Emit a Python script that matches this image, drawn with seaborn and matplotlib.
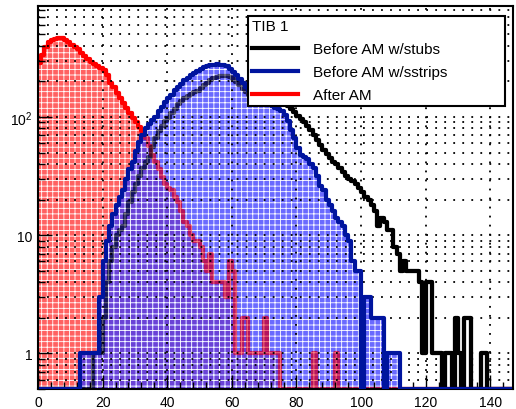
import numpy as np
import matplotlib
matplotlib.use("Agg")
import matplotlib.pyplot as plt
from matplotlib.lines import Line2D
from matplotlib.ticker import FixedLocator, MultipleLocator, NullFormatter, FixedFormatter, LogLocator
import seaborn as sns

# 1-unit bins from 0 to 147
bin_edges = list(range(0, 148))

after_am = [285, 335, 390, 430, 445, 460, 465, 462, 450, 430,
            410, 395, 375, 350, 330, 310, 290, 280, 270, 262,
            250, 225, 195, 180, 160, 145, 132, 120, 108, 98,
            90, 82, 76, 66, 57, 48, 42, 36, 31, 27,
            25, 24, 21, 19, 16, 13, 12, 10, 9, 9,
            8, 6, 5, 7, 4, 4, 4, 4, 3, 6,
            5, 1, 1, 2, 2, 1, 1, 1, 1, 1,
            2, 1, 1, 1, 1, 0, 0, 0, 0, 0,
            0, 0, 0, 0, 0, 1, 0, 0, 0, 0,
            0, 0, 1, 0, 0, 0, 0, 0, 0, 0] + [0] * 47

before_sstrips = [0] * 10 + [
            0, 0, 0, 1, 1, 1, 1, 1, 1, 3,
            6, 9, 12, 15, 18, 21, 24, 30, 36, 42,
            52, 62, 70, 80, 88, 94, 100, 112, 122, 135,
            145, 155, 168, 180, 192, 205, 215, 225, 235, 245,
            255, 265, 272, 276, 278, 280, 278, 276, 270, 255,
            240, 225, 210, 195, 180, 166, 160, 152, 146, 140,
            136, 130, 124, 120, 116, 112, 104, 92, 78, 66,
            55, 48, 46, 44, 40, 37, 32, 26, 24, 20,
            18, 16, 14, 13, 12, 10, 9, 6, 5, 5,
            0, 3, 3, 2, 2, 2, 2, 0, 1, 1,
            1, 1] + [0] * 35

before_stubs = [0] * 10 + [
            0, 0, 0, 0, 0, 0, 0, 1, 1, 1,
            2, 4, 6, 8, 10, 11, 12, 15, 19, 23,
            27, 32, 37, 42, 46, 56, 66, 76, 84, 92,
            98, 108, 118, 128, 136, 145, 152, 158, 163, 166,
            175, 185, 195, 205, 212, 218, 222, 224, 222, 218,
            210, 198, 186, 174, 163, 154, 148, 144, 141, 139,
            138, 137, 136, 134, 132, 130, 128, 124, 118, 110,
            102, 96, 90, 84, 78, 70, 64, 58, 53, 49,
            45, 42, 40, 37, 34, 32, 30, 29, 27, 25,
            23, 21, 20, 18, 16, 12, 14, 13, 11, 11,
            8, 7, 5, 6, 5, 5, 5, 5, 4, 1,
            4, 4, 1, 1, 1, 0, 1, 1, 0, 2,
            1, 0, 2, 2, 0, 0, 0, 1, 1, 0] + [0] * 7

series_labels = ["Before AM w/stubs", "Before AM w/sstrips", "After AM"]
legend_title = "TIB 1"
x_ticks = [0, 20, 40, 60, 80, 100, 120, 140]
y_ticks = [1, 10, 100]
y_tick_labels = ["1", "10", r"$10^2$"]

plt.rcParams['font.family'] = ['Liberation Sans', 'DejaVu Sans']
plt.rcParams['mathtext.fontset'] = 'custom'
plt.rcParams['mathtext.rm'] = 'Liberation Sans'
plt.rcParams['hatch.linewidth'] = 0.6

y_min, y_max = 0.5, 870
centers = np.array(bin_edges[:-1]) + 0.5

fig = plt.figure(figsize=(5.16, 4.10), dpi=100)
ax = fig.add_axes([0.0736, 0.0488, 0.9205, 0.9342])

black = "black"
blue_line = (0.0, 0.08, 0.62)
red_line = (1.0, 0.0, 0.0)


def outline(counts, color, z, alpha=1.0):
    # like ROOT: empty bins are drawn on the bottom of the log axis
    sns.histplot(x=centers, weights=np.maximum(counts, y_min), bins=bin_edges,
                 element="step", fill=False, color=color, linewidth=3, alpha=alpha,
                 ax=ax, zorder=z)


def hatched(counts, face, z):
    sns.histplot(x=centers, weights=counts, bins=bin_edges, element="step",
                 fill=True, facecolor=face, edgecolor="white", hatch="+++",
                 linewidth=0, ax=ax, zorder=z)


hatched(after_am, (1, 0, 0, 0.62), 1.0)
outline(after_am, red_line, 1.2)
outline(before_stubs, black, 1.3)
hatched(before_sstrips, (0.22, 0.22, 1, 0.75), 1.5)
# faint copies on top so the lines show through the blue pattern
outline(after_am, red_line, 1.7, alpha=0.5)
outline(before_stubs, black, 1.8, alpha=0.5)
outline(before_sstrips, blue_line, 5)

ax.set_yscale("log")
ax.set_xlim(0, 147)
ax.set_ylim(y_min, y_max)
ax.set_xlabel("")
ax.set_ylabel("")

ax.xaxis.set_major_locator(FixedLocator(x_ticks))
ax.xaxis.set_minor_locator(MultipleLocator(4))
ax.yaxis.set_major_locator(FixedLocator(y_ticks))
ax.yaxis.set_major_formatter(FixedFormatter(y_tick_labels))
ax.yaxis.set_minor_locator(LogLocator(base=10, subs=np.arange(2, 10)))
ax.yaxis.set_minor_formatter(NullFormatter())

ax.tick_params(which="major", direction="in", length=10, width=1, labelsize=10, pad=4)
ax.tick_params(which="minor", direction="in", length=5, width=1)

ax.set_axisbelow(False)
ax.grid(True, axis="x", which="major", color="black", linestyle=(0, (1, 4)), linewidth=1.3)
ax.grid(True, axis="y", which="both", color="black", linestyle=(0, (1, 4)), linewidth=1.3)
for name, s in ax.spines.items():
    s.set_linewidth(1.5)
    s.set_zorder(2.8 if name == "bottom" else 10)

handles = [Line2D([], [], color=black, lw=3),
           Line2D([], [], color=blue_line, lw=3),
           Line2D([], [], color=red_line, lw=3)]
leg = ax.legend(handles, series_labels, title=legend_title, loc="upper left",
                bbox_to_anchor=(0.442, 0.975, 0.541, 0.0), mode="expand",
                fontsize=11, title_fontsize=11, frameon=True, fancybox=False,
                handlelength=3.0, handletextpad=1.0, borderpad=0.25, labelspacing=0.58,
                alignment="left", borderaxespad=0)
leg.get_frame().set_edgecolor("black")
leg.get_frame().set_linewidth(1.5)
leg.get_frame().set_alpha(1)
leg.set_zorder(20)

fig.savefig("out.png", dpi=100)
